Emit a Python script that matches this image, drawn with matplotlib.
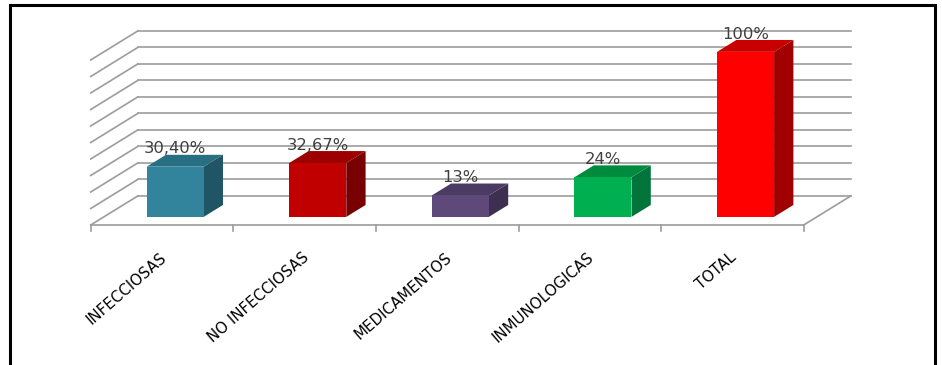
import matplotlib
matplotlib.use("Agg")
import matplotlib.pyplot as plt
from matplotlib.patches import Polygon, Rectangle
import numpy as np

# Data
categories = ["INFECCIOSAS", "NO INFECCIOSAS", "MEDICAMENTOS", "INMUNOLOGICAS", "TOTAL"]
values = [30.40, 32.67, 13, 24, 100]
value_labels = ["30,40%", "32,67%", "13%", "24%", "100%"]
front_colors = ["#31849B", "#C00000", "#5F497A", "#00B050", "#FF0000"]
top_colors = ["#286F83", "#9C0000", "#4B3A61", "#008A3E", "#C80000"]
side_colors = ["#1F5565", "#780000", "#3D2F50", "#00743A", "#A00000"]
grid_values = np.arange(0, 101, 10)

# 3D oblique projection settings (data units)
sx, sy = 0.33, 17.6      # shift for full floor depth
bar_z0, bar_dz = 0.28, 0.41
bar_w = 0.40
grid_color = "#9C9C9C"

fig = plt.figure(figsize=(9.42, 3.65), dpi=100)
ax = fig.add_axes([0, 0, 1, 1])
ax.set_xlim(-162 / 142.6, (942 - 162) / 142.6)
ax.set_ylim(-140 / 1.65, 225 / 1.65)
ax.axis("off")

n = len(categories)
x0, x1 = -0.5, n - 0.5

# back wall and left wall gridlines
for g in grid_values:
    ax.plot([x0 + sx, x1 + sx], [g + sy, g + sy], color=grid_color, lw=1.2, zorder=1)
    ax.plot([x0, x0 + sx], [g, g + sy], color=grid_color, lw=1.2, zorder=1)

# floor edges and ticks
ax.plot([x0, x1], [0, 0], color=grid_color, lw=1.2, zorder=1)
ax.plot([x1, x1 + sx], [0, sy], color=grid_color, lw=1.2, zorder=1)
for t in np.arange(x0, x1 + 0.01, 1):
    ax.plot([t, t], [0, -3.5], color=grid_color, lw=1.2, zorder=1)

# bars
for i, v in enumerate(values):
    xl = i + bar_z0 * sx - bar_w / 2
    xr = xl + bar_w
    yb = bar_z0 * sy
    dx, dy = bar_dz * sx, bar_dz * sy
    front = Polygon([(xl, yb), (xr, yb), (xr, yb + v), (xl, yb + v)],
                    closed=True, fc=front_colors[i], ec="none", zorder=3)
    side = Polygon([(xr, yb), (xr + dx, yb + dy), (xr + dx, yb + v + dy), (xr, yb + v)],
                   closed=True, fc=side_colors[i], ec="none", zorder=3)
    top = Polygon([(xl, yb + v), (xr, yb + v), (xr + dx, yb + v + dy), (xl + dx, yb + v + dy)],
                  closed=True, fc=top_colors[i], ec="none", zorder=3)
    for p in (side, top, front):
        ax.add_patch(p)
    ax.text(i + bar_z0 * sx, yb + v + dy - 1.0, value_labels[i], ha="center", va="bottom",
            fontsize=11.8, color="#404040", zorder=5)

# category labels
for i, c in enumerate(categories):
    ax.text(i - 0.02, -15.0, c, rotation=41, rotation_mode="anchor", ha="right", va="top",
            fontsize=10.8, color="#000000")

# outer frame
fig.patches.append(Rectangle((10 / 942, -0.05), 925 / 942, 1 - 4.7 / 365 + 0.05,
                             transform=fig.transFigure, fill=False, ec="black", lw=2.2))

fig.savefig("out.png", dpi=100)
